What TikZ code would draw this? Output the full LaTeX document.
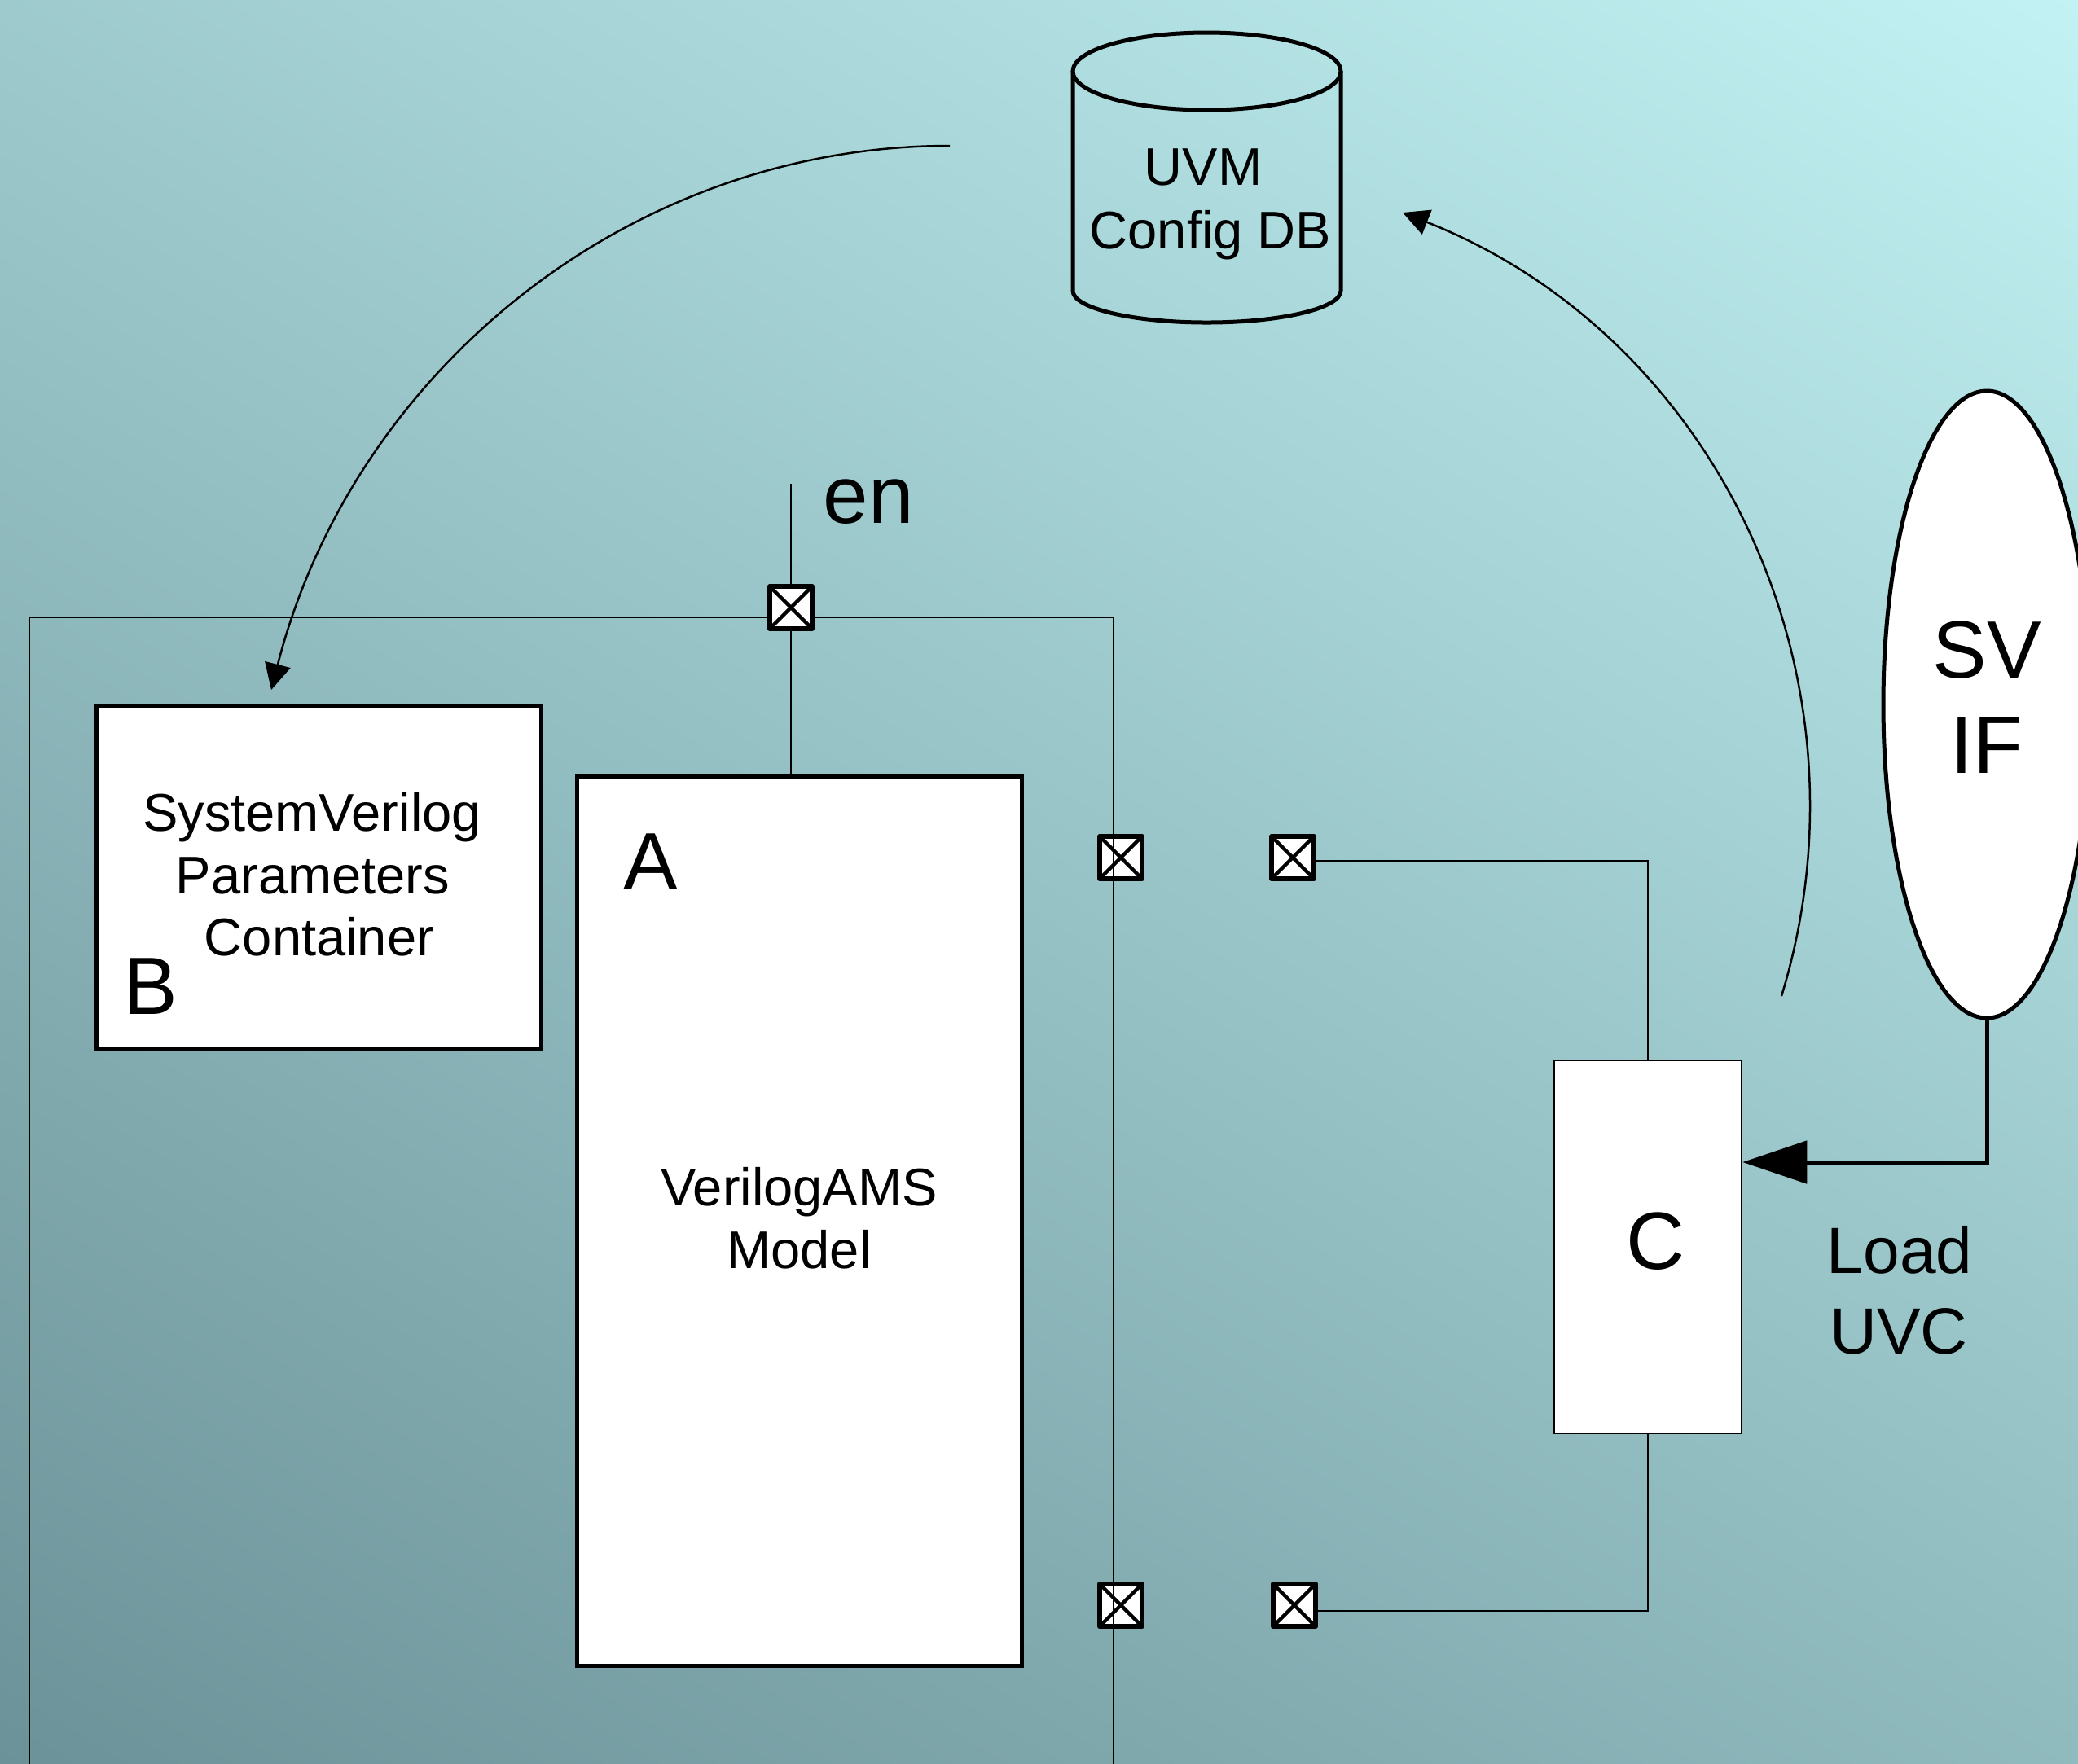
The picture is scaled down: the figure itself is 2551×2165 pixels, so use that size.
\documentclass[tikz,border=0pt]{standalone}
\usepackage{fontspec}
\setmainfont{Liberation Sans}
\usetikzlibrary{arrows.meta,shapes.geometric}
\pgfdeclarelayer{backdrop}
\pgfdeclarelayer{wires}
\pgfsetlayers{backdrop,wires,main}
% one drawing unit
\newlength\upx
\setlength\upx{0.01cm}
\definecolor{bgdark}{RGB}{107,146,152}
\definecolor{bglight}{RGB}{194,242,243}
\tikzset{
  wire/.style={draw=black, line width=2.5\upx},
  thickwire/.style={draw=black, line width=5\upx},
  curvearrow/.style={draw=black, line width=2.5\upx, -{Triangle[length=0.32cm,width=0.32cm]}},
  blockbox/.style={draw=black, fill=white, line width=5\upx, inner sep=0pt},
  thinbox/.style={draw=black, fill=white, line width=2.5\upx, inner sep=0pt},
  port/.style={draw=black, fill=white, line width=6\upx, line join=round, minimum size=52\upx, inner sep=0pt,
    path picture={\draw[line width=4.5\upx]
      (path picture bounding box.north west) -- (path picture bounding box.south east)
      (path picture bounding box.north east) -- (path picture bounding box.south west);}},
  lbl/.style={inner sep=0pt, text=black},
  smalltxt/.style={lbl, font=\fontsize{18.5}{22}\selectfont},
  bigtxt/.style={lbl, font=\fontsize{28.4}{34}\selectfont},
  loadtxt/.style={lbl, font=\fontsize{22.8}{27}\selectfont},
}
\begin{document}
\begin{tikzpicture}[x=1\upx, y=-1\upx]
\useasboundingbox (0,0) rectangle (2551,2165);

% backdrop: linear gradient, dark at lower left, light at upper right
\begin{pgfonlayer}{backdrop}
  \begin{scope}
    \clip (0,0) rectangle (2551,2165);
    \begin{scope}[transform canvas={rotate around={59:(1275.5,1082.5)}}]
      \shade[left color=bgdark, right color=bglight] (-310.5,-617.5) rectangle (2861.5,2782.5);
    \end{scope}
  \end{scope}
\end{pgfonlayer}

% UVM config database cylinder
\draw[line width=5\upx] (1481.5,87.5) ellipse [x radius=164.5, y radius=47.5];
\draw[line width=5\upx, line join=round] (1317,87.5) -- (1317,357)
  arc [start angle=180, end angle=0, x radius=164.5, y radius=39] -- (1646,87.5);
\node[smalltxt, anchor=base] (uvm1) at (1477,227) {UVM};
\node[smalltxt, anchor=base] (uvm2) at (1486,305) {Config DB};

% blocks
\node[blockbox, minimum width=546\upx, minimum height=422\upx] (B) at (391,1077) {};
\node[blockbox, minimum width=546\upx, minimum height=1092\upx] (A) at (981,1499) {};
\node[thinbox, minimum width=230\upx, minimum height=458\upx] (C) at (2023,1531) {};
\node[ellipse, draw=black, fill=white, line width=5\upx, inner sep=0pt,
      minimum width=254\upx, minimum height=770\upx] (svif) at (2439,865) {};

% ports
\node[port] (p0) at (971,746) {};
\node[port] (pr1) at (1376,1053) {};
\node[port] (pq1) at (1587,1053) {};
\node[port] (pr2) at (1376,1971) {};
\node[port] (pq2) at (1589,1971) {};

% free ends
\coordinate (enend) at (971,594);
\coordinate (frBL) at (36,2200);
\coordinate (frTL) at (36,758);
\coordinate (frTR) at (1367,758);
\coordinate (frBR) at (1367,2200);
\coordinate (getstart) at (1166,179);
\coordinate (getend) at (333,847);
\coordinate (setstart) at (2187,1223);
\coordinate (setend) at (1722,261);

\begin{pgfonlayer}{wires}
  \draw[wire] (frBL) -- (frTL) -- (frTR);
  \draw[wire] (enend) -- (p0) -- (p0 |- A.north);
  \draw[wire] ([yshift=-4\upx]pq1.east) -| (C.north);
  \draw[wire] ([yshift=-7\upx]pq2.east) -| (C.south);
\end{pgfonlayer}
% right edge of the enclosing module runs over its ports
\draw[wire] (frTR) -- (frBR);

% config db get / set arcs
\draw[curvearrow] (getstart) .. controls (768,179) and (432,460) .. (getend);
\draw[curvearrow] (setstart) .. controls (2307,831) and (2108,414) .. (setend);

% interface drives the load UVC
\draw[thickwire, -{Triangle[length=0.79cm,width=0.52cm]}] (svif.south) |- ([yshift=104\upx]C.east);

% labels
\node[smalltxt, anchor=base] (b1) at (383,1020) {SystemVerilog};
\node[smalltxt, anchor=base] (b2) at (384,1097) {Parameters};
\node[smalltxt, anchor=base] (b3) at (392,1173) {Container};
\node[bigtxt, anchor=base] (bl) at (185,1245) {B};
\node[bigtxt, anchor=base] (al) at (799,1092) {A};
\node[smalltxt, anchor=base] (a1) at (981,1480) {VerilogAMS};
\node[smalltxt, anchor=base] (a2) at (981,1557) {Model};
\node[bigtxt, anchor=base west] (en) at (1010,642) {en};
\node[bigtxt, anchor=base] (cl) at (2033,1558) {C};
\node[bigtxt, anchor=base] (sv1) at (2439,832) {SV};
\node[bigtxt, anchor=base] (sv2) at (2439,949) {IF};
\node[loadtxt, anchor=base] (ld1) at (2332,1563) {Load};
\node[loadtxt, anchor=base] (ld2) at (2331,1662) {UVC};
\end{tikzpicture}
\end{document}
